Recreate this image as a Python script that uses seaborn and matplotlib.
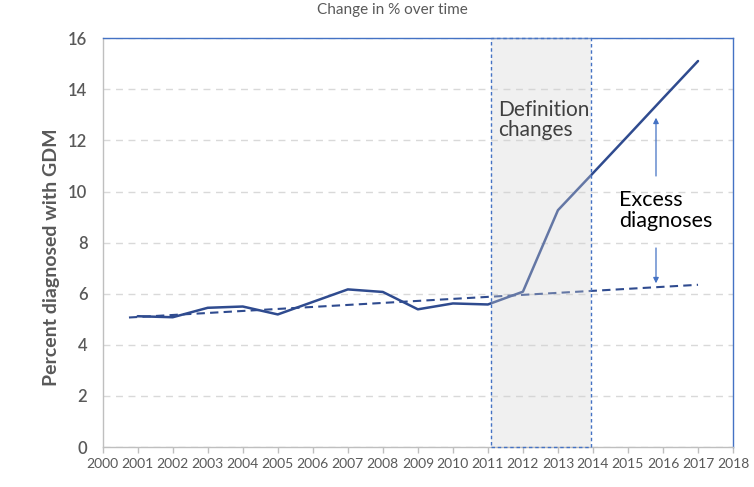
import pandas as pd
import matplotlib.pyplot as plt
import seaborn as sns
from matplotlib.patches import Rectangle

# --- Data ---
years = [2001, 2002, 2003, 2004, 2005, 2006, 2007, 2008, 2009,
         2010, 2011, 2012, 2013, 2014, 2015, 2016, 2017]
percent_gdm = [5.12, 5.08, 5.45, 5.50, 5.19, 5.68, 6.17, 6.07, 5.39,
               5.62, 5.58, 6.08, 9.27, 10.72, 12.18, 13.65, 15.11]

trend_years = [2000.75, 2017]
trend_values = [5.07, 6.35]

tick_years = list(range(2000, 2019))
y_ticks = [0, 2, 4, 6, 8, 10, 12, 14, 16]

df = pd.DataFrame({'Year': years, 'Percent': percent_gdm})
trend = pd.DataFrame({'Year': trend_years, 'Percent': trend_values})

navy = '#2F4B8F'
blue = '#4472C4'
grey_text = '#595959'

sns.set_theme(style="white")
plt.rcParams['font.family'] = ['Lato', 'DejaVu Sans']

fig = plt.figure(figsize=(7.54, 4.87), dpi=100)
ax = fig.add_axes([0.1362, 0.0821, 0.8360, 0.8393])

sns.lineplot(data=df, x='Year', y='Percent', ax=ax, color=navy, linewidth=1.8, zorder=3)
sns.lineplot(data=trend, x='Year', y='Percent', ax=ax, color=navy, linewidth=1.5,
             linestyle=(0, (4, 2.5)), zorder=3)

# shaded "definition changes" box, drawn over the line so it appears lighter
ax.add_patch(Rectangle((2011.08, 0), 2.85, 16.02, facecolor='#D2D2D2', alpha=0.33,
                       edgecolor='none', zorder=4, clip_on=False))
ax.add_patch(Rectangle((2011.08, 0), 2.85, 16.02, facecolor='none', edgecolor=blue,
                       linewidth=1.0, linestyle=(0, (2.5, 2)), zorder=5, clip_on=False))

ax.set_xlim(2000, 2018)
ax.set_ylim(0, 16)
ax.set_xticks(tick_years)
ax.set_xticklabels([str(y) for y in tick_years])
ax.set_yticks(y_ticks)

ax.yaxis.grid(True, color='#D9D9D9', linestyle=(0, (5, 4)), linewidth=1.0)
ax.set_axisbelow(True)

for side in ['left', 'bottom']:
    ax.spines[side].set_color('#BFBFBF')
    ax.spines[side].set_linewidth(1.0)
for side in ['top', 'right']:
    ax.spines[side].set_color(blue)
    ax.spines[side].set_linewidth(1.0)

ax.tick_params(axis='x', length=4, width=1, color='#BFBFBF', direction='out',
               labelsize=10, labelcolor=grey_text, pad=4, bottom=True)
ax.tick_params(axis='y', length=0, labelsize=12, labelcolor=grey_text, pad=11)
for lbl in ax.get_yticklabels():
    lbl.set_fontweight('semibold')

ax.set_xlabel('')
ax.set_ylabel('Percent diagnosed with GDM', fontsize=14, fontweight='bold', color=grey_text)
ax.yaxis.set_label_coords(-0.067, 0.465)

fig.text(0.52, 0.979, 'Change in % over time', ha='center', va='center',
         fontsize=11, color=grey_text)

ax.text(2011.3, 12.8, 'Definition\nchanges', ha='left', va='center', fontsize=15,
        color='#404040', linespacing=1.05, zorder=6)
ax.text(2014.75, 9.27, 'Excess\ndiagnoses', ha='left', va='center', fontsize=15.5,
        color='black', linespacing=1.05, zorder=6)

ax.annotate('', xy=(2015.8, 13.0), xytext=(2015.8, 10.5),
            arrowprops=dict(arrowstyle='-|>', color=blue, lw=0.9, mutation_scale=8))
ax.annotate('', xy=(2015.8, 6.3), xytext=(2015.8, 7.9),
            arrowprops=dict(arrowstyle='-|>', color=blue, lw=0.9, mutation_scale=8))

fig.savefig('out.png', dpi=100)
